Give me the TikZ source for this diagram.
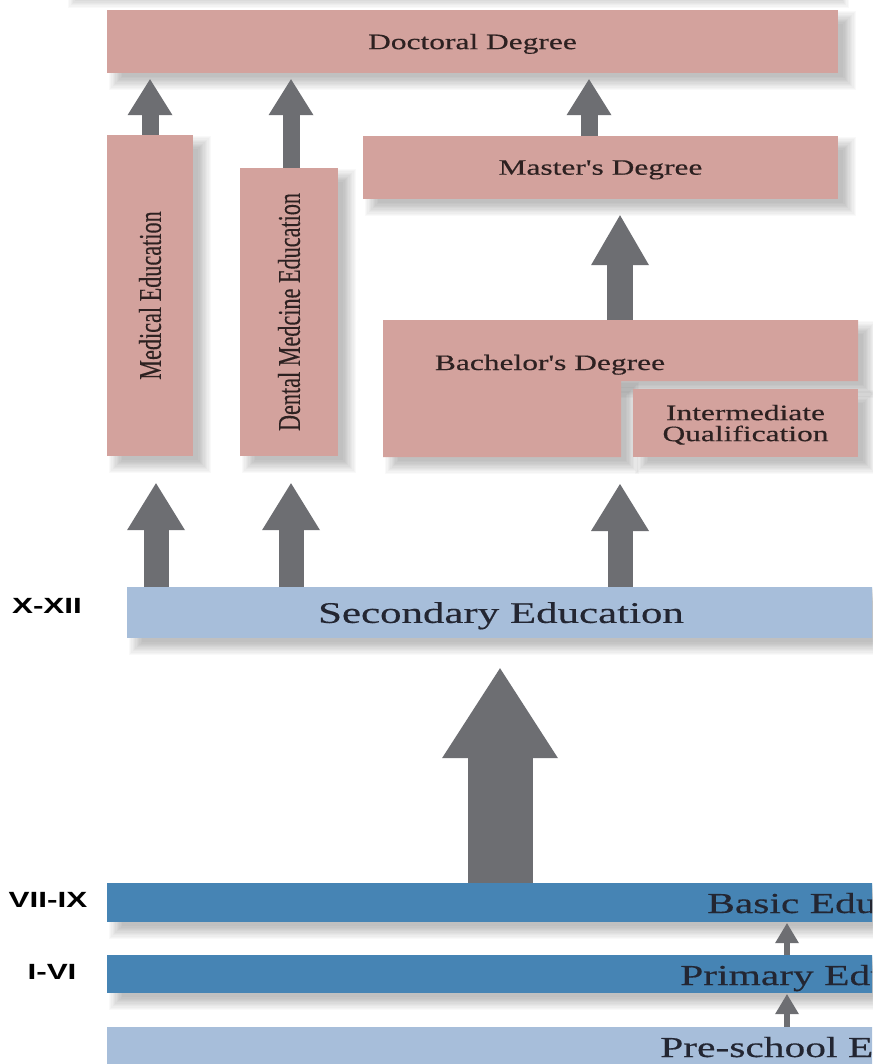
\documentclass[tikz,border=0pt]{standalone}
\usepackage{fontspec}
\newfontfamily\mainf{Liberation Serif}[FakeStretch=1.43, FakeBold=0.4]
\newfontfamily\vertfont{Liberation Serif}[FakeBold=0.4]
\newfontfamily\labfont{Liberation Sans}[FakeStretch=1.43]
\usepackage{graphicx}
\usetikzlibrary{arrows.meta,calc}
\pgfdeclarelayer{bg}
\pgfsetlayers{bg,main}
\definecolor{pinkbox}{RGB}{211,162,157}
\definecolor{arrowgray}{RGB}{109,110,114}
\definecolor{lightblue}{RGB}{167,190,218}
\definecolor{darkblue}{RGB}{70,132,180}
\definecolor{textdark}{RGB}{45,33,33}
\definecolor{textblue}{RGB}{35,38,50}
\newcommand\softshad[2]{%
  \foreach \k in {0,...,10}{%
    \pgfmathsetmacro\e{-5+1.3*\k}%
    \fill[black, opacity=0.024] ($(#1)+(10-\e,9-\e)$) rectangle ($(#2)+(10+\e,9+\e)$);%
  }}
\tikzset{
  pbox/.style={fill=pinkbox, draw=none, inner sep=0pt, text=textdark, font=\mainf\fontsize{22}{22}\selectfont, text depth=0pt},
  ptext/.style={inner sep=0pt, text=textdark, font=\mainf\fontsize{22}{22}\selectfont},
  lbox/.style={fill=lightblue, draw=none, inner sep=0pt, text=textblue},
  dbox/.style={fill=darkblue, draw=none, inner sep=0pt},
  btext/.style={inner sep=0pt, text=textblue, font=\mainf\fontsize{29}{29}\selectfont},
  lab/.style={inner sep=0pt, text=black, font=\labfont\bfseries\fontsize{22}{22}\selectfont},
  arrA/.style={draw=arrowgray, line width=17pt, -{Triangle[length=36pt 0 1, width=45pt 0 1, line width=0pt 0 1]}, shorten >=6pt},
  arrB/.style={draw=arrowgray, line width=26pt, -{Triangle[length=50pt 0 1, width=58pt 0 1, line width=0pt 0 1]}, shorten >=16pt},
  arrC/.style={draw=arrowgray, line width=25pt, -{Triangle[length=47pt 0 1, width=58pt 0 1, line width=0pt 0 1]}, shorten >=27pt},
  arrD/.style={draw=arrowgray, line width=65pt, -{Triangle[length=90pt 0 1, width=116pt 0 1, line width=0pt 0 1]}, shorten >=30pt},
  arrE/.style={draw=arrowgray, line width=6.5pt, -{Triangle[length=20pt 0 1, width=24pt 0 1, line width=0pt 0 1]}, shorten >=1pt},
}
\begin{document}
\begin{tikzpicture}[x=1pt, y=-1pt]
\useasboundingbox (0,0) rectangle (872,1064);
\clip (0,0) rectangle (872,1064);

% higher education
\node[pbox, minimum width=731pt, minimum height=63pt] (doc) at (472.5,41.5) {Doctoral Degree};
\node[pbox, minimum width=86pt, minimum height=321pt] (med) at (150,295.5)
  {\rotatebox{90}{\scalebox{1}[1.43]{\vertfont\fontsize{22.2}{24}\selectfont Medical Education}}};
\node[pbox, minimum width=98pt, minimum height=288pt] (dent) at (289,312)
  {\rotatebox{90}{\scalebox{1}[1.43]{\vertfont\fontsize{22.2}{24}\selectfont Dental Medcine Education}}};
\node[pbox, minimum width=475pt, minimum height=63pt] (mast) at (600.5,167.5) {Master's Degree};

\fill[pinkbox] (383,320) -- (858,320) -- (858,381) -- (621,381) -- (621,457) -- (383,457) -- cycle;
\coordinate (bachN) at (620,320);
\coordinate (bachS) at (620,457);
\node[ptext, anchor=base] (bach) at (550,370) {Bachelor's Degree};
\node[pbox, minimum width=225pt, minimum height=68pt, align=center, font=\mainf\fontsize{22}{21}\selectfont] (inter) at (745.5,423)
  {Intermediate\\Qualification};

% secondary
\node[lbox, minimum width=748pt, minimum height=51pt, text depth=0pt, font=\mainf\fontsize{30}{30}\selectfont] (sec) at (501,612.5) {Secondary Education};

% lower levels
\node[dbox, minimum width=800pt, minimum height=39pt] (basic) at (507,902.5) {};
\node[btext, anchor=base west] (basictxt) at (707,913) {Basic Education};
\node[dbox, minimum width=800pt, minimum height=38pt] (prim) at (507,974) {};
\node[btext, anchor=base west] (primtxt) at (680,985) {Primary Education};
\node[lbox, minimum width=800pt, minimum height=73pt] (pre) at (507,1063.5) {};
\node[btext, anchor=base west] (pretxt) at (660,1057) {Pre-school Education};

% labels
\node[lab] (l1) at (47,606) {X-XII};
\node[lab] (l2) at (48,900) {VII-IX};
\node[lab] (l3) at (52,972) {I-VI};

% arrows to doctoral
\draw[arrA] (med.north) -- (med.north |- doc.south);
\draw[arrA] ([xshift=2pt]dent.north) -- ([xshift=2pt]dent.north |- doc.south);
\draw[arrA] ([xshift=-11.5pt]mast.north) -- ([xshift=-11.5pt]mast.north |- doc.south);
% bachelor to master
\draw[arrB] (bachN) -- (bachN |- mast.south);
% secondary to higher
\draw[arrC] ([xshift=6pt]med.south |- sec.north) -- ([xshift=6pt]med.south);
\draw[arrC] ([xshift=2pt]dent.south |- sec.north) -- ([xshift=2pt]dent.south);
\draw[arrC] (bachS |- sec.north) -- (bachS);
% basic to secondary
\draw[arrD] ([xshift=-7pt]basic.north) -- ([xshift=-7pt]basic.north |- sec.south);
% small arrows
\draw[arrE] ([xshift=280pt]prim.north) -- ([xshift=280pt]basic.south);
\draw[arrE] ([xshift=280pt]pre.north) -- ([xshift=280pt]prim.south);

% soft shadows behind everything
\begin{pgfonlayer}{bg}
\fill[white] (0,0) rectangle (872,1064);
\softshad{66,-90}{831,-9}
\softshad{doc.north west}{doc.south east}
\softshad{med.north west}{med.south east}
\softshad{dent.north west}{dent.south east}
\softshad{mast.north west}{mast.south east}
\softshad{383,320}{858,381}
\softshad{383,381}{621,457}
\softshad{inter.north west}{inter.south east}
\softshad{sec.north west}{sec.south east}
\softshad{basic.north west}{basic.south east}
\softshad{prim.north west}{prim.south east}
\end{pgfonlayer}
\end{tikzpicture}
\end{document}
